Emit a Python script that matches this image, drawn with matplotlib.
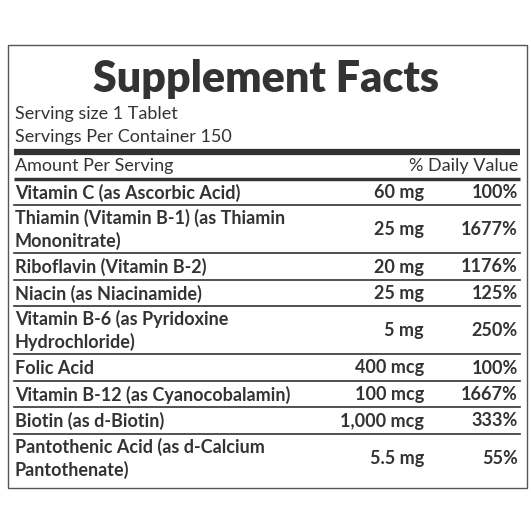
import matplotlib
matplotlib.use("Agg")
import matplotlib.pyplot as plt
from matplotlib.patches import Rectangle

title = "Supplement Facts"
serving_lines = ["Serving size 1 Tablet", "Servings Per Container 150"]
header = ["Amount Per Serving", "% Daily Value"]
nutrients = ["Vitamin C (as Ascorbic Acid)",
             "Thiamin (Vitamin B-1) (as Thiamin\nMononitrate)",
             "Riboflavin (Vitamin B-2)",
             "Niacin (as Niacinamide)",
             "Vitamin B-6 (as Pyridoxine\nHydrochloride)",
             "Folic Acid",
             "Vitamin B-12 (as Cyanocobalamin)",
             "Biotin (as d-Biotin)",
             "Pantothenic Acid (as d-Calcium\nPantothenate)"]
amounts = ["60 mg", "25 mg", "20 mg", "25 mg", "5 mg", "400 mcg", "100 mcg", "1,000 mcg", "5.5 mg"]
daily_values = ["100%", "1677%", "1176%", "125%", "250%", "100%", "1667%", "333%", "55%"]

C = "#333333"
fig = plt.figure(figsize=(5.31, 5.31), dpi=100)
ax = fig.add_axes([0, 0, 1, 1])
ax.set_xlim(0, 531); ax.set_ylim(531, 0); ax.axis("off")
plt.rcParams['font.family'] = ['Lato', 'DejaVu Sans']

ax.add_patch(Rectangle((8, 45), 519, 443, fill=False, ec="#555555", lw=1))
ax.text(266, 79, title, ha="center", va="center", fontsize=31, fontweight="heavy", color=C)
fs = 13
ax.text(15, 114, serving_lines[0], va="center", fontsize=fs, color=C)
ax.text(15, 137, serving_lines[1], va="center", fontsize=fs, color=C)
ax.plot([14, 520], [152, 152], color=C, lw=4.5, solid_capstyle="butt")
ax.text(15, 166, header[0], va="center", fontsize=fs, color=C)
ax.text(518, 166, header[1], va="center", ha="right", fontsize=fs, color=C)
ax.plot([14, 520], [179, 179], color=C, lw=2.5, solid_capstyle="butt")

y = 180
for n, a, d in zip(nutrients, amounts, daily_values):
    nl = n.count("\n") + 1
    h = 25 if nl == 1 else 46.5
    yc = y + h / 2
    ax.text(15, yc, n, va="center", fontsize=fs, fontweight="bold", color=C, linespacing=1.3)
    ax.text(424, yc, a, va="center", ha="right", fontsize=fs, fontweight="bold", color=C)
    ax.text(518, yc, d, va="center", ha="right", fontsize=fs, fontweight="bold", color=C)
    y += h
    if n != nutrients[-1]:
        ax.plot([14, 520], [y, y], color=C, lw=1.2)
        y += 1.5

fig.savefig("out.png", dpi=100)
